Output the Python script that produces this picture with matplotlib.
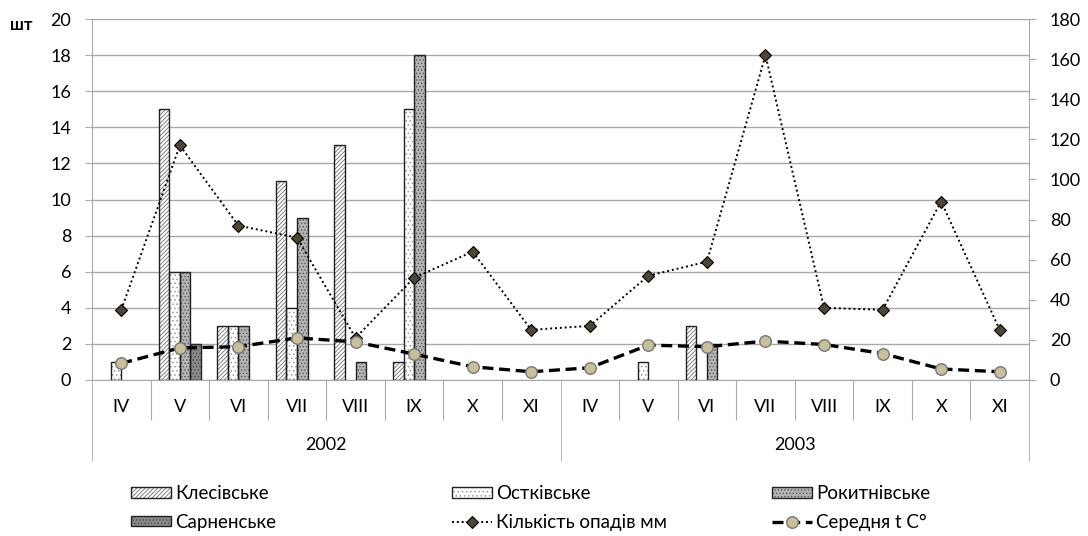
import numpy as np
import matplotlib
matplotlib.use("Agg")
import matplotlib.pyplot as plt
from matplotlib.legend_handler import HandlerTuple

plt.rcParams['font.family'] = ['Lato', 'Noto Sans', 'DejaVu Sans']
plt.rcParams['hatch.linewidth'] = 0.6

# Дані
months = ['IV', 'V', 'VI', 'VII', 'VIII', 'IX', 'X', 'XI',
          'IV', 'V', 'VI', 'VII', 'VIII', 'IX', 'X', 'XI']
years = ['2002', '2003']

klesivske = [0, 15, 3, 11, 13, 1, 0, 0, 0, 0, 3, 0, 0, 0, 0, 0]
ostkivske = [1, 6, 3, 4, 0, 15, 0, 0, 0, 1, 0, 0, 0, 0, 0, 0]
rokytnivske = [0, 6, 3, 9, 1, 18, 0, 0, 0, 0, 2, 0, 0, 0, 0, 0]
sarnenske = [0, 2, 0, 0, 0, 0, 0, 0, 0, 0, 0, 0, 0, 0, 0, 0]

opady = [35, 117, 77, 71, 21, 51, 64, 25, 27, 52, 59, 162, 36, 35, 89, 25]
temp = [8.3, 16, 16.6, 21, 19, 12.9, 6.6, 4.1, 6.1, 17.4, 16.6, 19.4, 17.7, 13.2, 5.5, 4.1]

series = [
    ('Клесівське', klesivske, 'white', '#707070', '////////'),
    ('Остківське', ostkivske, 'white', '#9a9a9a', '....'),
    ('Рокитнівське', rokytnivske, '#b4b4b4', '#5a5a5a', '.....'),
    ('Сарненське', sarnenske, '#8a8a8a', '#4a4a4a', '.....'),
]

W, H = 1088, 536
fig = plt.figure(figsize=(W / 100, H / 100), dpi=100)
fig.subplots_adjust(left=92 / W, right=1029 / W, bottom=1 - 380 / H, top=1 - 19 / H)
ax = fig.add_subplot(111)

x = np.arange(len(months))
bw = 0.18
grid_c = '#a9a9a9'

handles = {}
for i, (name, vals, face, hcol, hatch) in enumerate(series):
    vals = np.array(vals, dtype=float)
    nz = vals > 0
    xs = (x + (i - 1.5) * bw)[nz]
    hb = ax.bar(xs, vals[nz], bw, color=face, edgecolor=hcol, hatch=hatch, lw=0, zorder=2)
    ob = ax.bar(xs, vals[nz], bw, fill=False, edgecolor='#222222', lw=1, zorder=3)
    handles[name] = (hb[0], ob[0])

ax.set_xlim(-0.5, 15.5)
ax.set_ylim(0, 20)
ax.set_yticks(np.arange(0, 21, 2))
ax.yaxis.grid(True, color=grid_c, lw=1)
ax.set_axisbelow(True)
for s in ['top', 'right']:
    ax.spines[s].set_visible(False)
for s in ['left', 'bottom']:
    ax.spines[s].set_color(grid_c)
ax.tick_params(axis='y', colors=grid_c, length=5, pad=10, labelsize=13, labelcolor='black')

# Категорії (місяці / роки)
ax.set_xticks([b + 0.5 for b in range(15) if b != 7])
ax.set_xticks([-0.5, 7.5, 15.5], minor=True)
ax.tick_params(axis='x', which='major', length=29, color=grid_c, labelbottom=False)
ax.tick_params(axis='x', which='minor', length=58, color=grid_c, labelbottom=False)
tr = ax.get_xaxis_transform()
for xi, m in zip(x, months):
    ax.text(xi, -0.075, m, transform=tr, ha='center', va='center', fontsize=13)
for k, yr in enumerate(years):
    ax.text(3.5 + 8 * k, -0.18, yr, transform=tr, ha='center', va='center', fontsize=13)

ax2 = ax.twinx()
ax2.set_ylim(0, 180)
ax2.set_yticks(np.arange(0, 181, 20))
for s in ['top', 'left', 'bottom']:
    ax2.spines[s].set_visible(False)
ax2.spines['right'].set_color(grid_c)
ax2.tick_params(axis='y', colors=grid_c, length=5, pad=10, labelsize=13, labelcolor='black')

l_op, = ax2.plot(x, opady, color='black', lw=1.4, ls=(0, (1, 1.5)),
                 marker='D', ms=6.2, mfc='#4d4632', mec='black', mew=0.8, zorder=4)
l_t, = ax2.plot(x, temp, color='black', lw=2.4, ls=(0, (3.3, 1.7)),
                marker='o', ms=8.3, mfc='#c9bf98', mec='#777777', mew=1, zorder=5)

fig.text(10 / W, 1 - 25 / H, 'шт', fontweight='bold', fontsize=12, va='center')

# Легенда: три колонки
cols = [
    (122, [handles['Клесівське'], handles['Сарненське']], ['Клесівське', 'Сарненське']),
    (443, [handles['Остківське'], l_op], ['Остківське', 'Кількість опадів мм']),
    (763, [handles['Рокитнівське'], l_t], ['Рокитнівське', 'Середня t C°']),
]
for cx, hs, labs in cols:
    fig.legend(hs, labs, loc='upper left', bbox_to_anchor=(cx / W, 1 - 476 / H),
               frameon=False, fontsize=13.5, handlelength=2.1, handleheight=0.5,
               handletextpad=0.25, labelspacing=0.6, borderpad=0,
               handler_map={tuple: HandlerTuple(ndivide=1, pad=0)})

fig.savefig('out.png', dpi=100)
